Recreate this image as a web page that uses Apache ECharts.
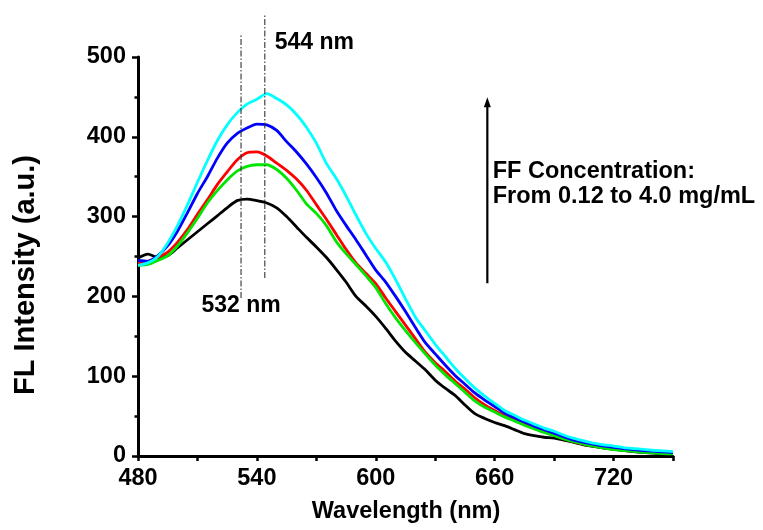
<!DOCTYPE html>
<html>
<head>
<meta charset="utf-8">
<script src="https://cdn.jsdelivr.net/npm/echarts@6/dist/echarts.min.js"></script>
<style>
  html, body { margin: 0; padding: 0; background: #ffffff; }
  #chart { width: 763px; height: 530px; }
</style>
</head>
<body>
<div id="chart"></div>
<script>
// Emission wavelength (nm), sampled every 5 nm
const wavelength = [
  480, 485, 490, 495, 500, 505, 510, 515, 520, 525, 530, 535,
  540, 545, 550, 555, 560, 565, 570, 575, 580, 585, 590, 595,
  600, 605, 610, 615, 620, 625, 630, 635, 640, 645, 650, 655,
  660, 665, 670, 675, 680, 685, 690, 695, 700, 705, 710, 715,
  720, 725, 730, 735, 740, 745, 750
];

// Fluorescence intensity (a.u.) for increasing FF concentration
const curveBlack = [
  248, 253, 249, 251, 261, 271, 281, 291, 301, 311, 320, 322,
  320, 317, 311, 300, 287, 274, 262, 249, 234, 218, 200, 188,
  175, 160, 144, 130, 119, 108, 95, 85, 76, 64, 53, 47,
  42, 38, 33, 28, 25.5, 23.5, 22.5, 20, 17, 14, 12, 10,
  8.5, 7, 5.6, 4.5, 3.5, 2.8, 2.3
];
const curveRed = [
  242, 244, 249, 255.5, 268, 284, 303, 321, 340, 356, 371, 380,
  381, 376, 367, 358, 347, 333, 315, 297, 278, 259, 242, 229,
  216, 198, 181, 164, 147, 130, 117, 106, 94, 84, 73, 64,
  57, 50.5, 45, 40, 35, 30.5, 26, 22, 18, 15, 12.7, 10.5,
  9, 7.7, 6.6, 5.6, 4.8, 3.9, 3.1
];
const curveGreen = [
  239, 240, 245, 251, 263.5, 280, 298, 317, 332.5, 346, 357, 363,
  365, 365, 359, 348, 333, 316, 304, 289, 269, 253.5, 240, 226,
  211, 191, 173, 157, 142, 128, 114, 102, 91, 80, 69, 61,
  55, 49, 44, 38.5, 34, 29.5, 25.5, 21.5, 18, 15, 12.3, 10,
  8, 6.9, 5.8, 4.7, 3.9, 3.1, 2.7
];
const curveBlue = [
  245, 244, 251, 263.5, 282, 305, 329, 350, 373, 392, 404, 411,
  416, 415, 408, 394, 381, 366, 349, 330, 308, 289, 271, 252,
  233, 218, 200, 181, 161, 142, 128, 114, 101, 90, 79, 70,
  62, 54, 48, 42.5, 37.5, 33, 28.5, 24, 20, 17, 14.5, 12.5,
  10.8, 9.4, 8.1, 6.9, 6, 5.2, 4.4
];
const curveCyan = [
  239, 242, 250, 267, 289, 315, 343, 370, 395, 415, 430, 441,
  447, 454, 448, 440, 428, 412, 392, 367, 348, 326, 302, 279,
  260, 243, 221, 197, 174, 157, 140, 125, 110, 97, 85, 75,
  66, 57, 51, 45, 40, 35, 31, 26, 22, 19, 16, 14,
  12.5, 10.6, 9.4, 8.3, 7.2, 6.4, 5.6
];

// Axis ticks
const xTickLabels = [480, 540, 600, 660, 720];
const yTickLabels = [0, 100, 200, 300, 400, 500];

// Peak markers: wavelength, and the intensity span of the dash-dot guide
const peakNm = [532, 544];
const peakFrom = [198, 223];
const peakTo = [527, 554];
const peakText = ['532 nm', '544 nm'];

const FONT = '"Liberation Sans", Arial, Helvetica, sans-serif';

const chart = echarts.init(document.getElementById('chart'), null, { renderer: 'canvas' });

function pairs(ys) {
  return wavelength.map((x, i) => [x, ys[i]]);
}

function lineSeries(name, ys, color) {
  return {
    name: name,
    type: 'line',
    data: pairs(ys),
    showSymbol: false,
    symbol: 'none',
    smooth: 0.25,
    clip: false,
    lineStyle: { color: color, width: 2.8 },
    emphasis: { disabled: true },
    animation: false
  };
}

chart.setOption({
  animation: false,
  backgroundColor: '#ffffff',
  grid: {
    left: 138, right: 90, top: 57, bottom: 74,
    containLabel: false,
    outerBoundsMode: 'none'
  },
  xAxis: {
    type: 'value',
    min: 480,
    max: 750,
    interval: 30,
    axisLine: { show: true, onZero: false, lineStyle: { color: '#000', width: 3 } },
    axisTick: { show: true, inside: false, length: 5, lineStyle: { color: '#000', width: 2.5 } },
    axisLabel: {
      show: true,
      margin: 11,
      color: '#000',
      fontFamily: FONT,
      fontWeight: 'bold',
      fontSize: 23.5,
      formatter: v => (xTickLabels.indexOf(v) >= 0 ? String(v) : '')
    },
    splitLine: { show: false }
  },
  yAxis: {
    type: 'value',
    min: 0,
    max: 500,
    interval: 100,
    axisLine: { show: true, onZero: false, lineStyle: { color: '#000', width: 3 } },
    axisTick: { show: true, inside: false, length: 6, lineStyle: { color: '#000', width: 2.5 } },
    minorTick: { show: true, splitNumber: 2, length: 3.5, lineStyle: { color: '#000', width: 2.5 } },
    axisLabel: {
      show: true,
      margin: 12,
      color: '#000',
      fontFamily: FONT,
      fontWeight: 'bold',
      fontSize: 23.5,
      formatter: v => (yTickLabels.indexOf(v) >= 0 ? String(v) : '')
    },
    splitLine: { show: false }
  },
  series: [
    lineSeries('black', curveBlack, '#000000'),
    lineSeries('red', curveRed, '#ff0000'),
    lineSeries('green', curveGreen, '#00e600'),
    lineSeries('blue', curveBlue, '#0000ff'),
    lineSeries('cyan', curveCyan, '#00ffff')
  ]
});

// Annotations positioned through the chart's own coordinate system
function px(x, y) {
  return chart.convertToPixel({ gridIndex: 0 }, [x, y]);
}

const graphics = [];

// Dash-dot guides at the emission maxima
peakNm.forEach((nm, i) => {
  const a = px(nm, peakFrom[i]);
  const b = px(nm, peakTo[i]);
  graphics.push({
    type: 'line',
    z: 5,
    shape: { x1: a[0], y1: a[1], x2: b[0], y2: b[1] },
    style: { stroke: '#333', lineWidth: 1.1, lineDash: [6, 2, 1.5, 2] }
  });
});

// Peak labels
const lbl544 = px(549, 518);
const lbl532 = px(512, 189);
[[lbl532, peakText[0]], [lbl544, peakText[1]]].forEach(([p, t]) => {
  graphics.push({
    type: 'text',
    z: 10,
    x: p[0], y: p[1],
    style: {
      text: t,
      font: 'bold 23px ' + FONT,
      fill: '#000',
      textAlign: 'left',
      textVerticalAlign: 'middle'
    }
  });
});

// Concentration arrow and caption
const arrowBottom = px(656.3, 216.5);
const arrowTip = px(656.3, 449.5);
graphics.push({
  type: 'line',
  z: 10,
  shape: { x1: arrowBottom[0], y1: arrowBottom[1], x2: arrowTip[0], y2: arrowTip[1] + 8 },
  style: { stroke: '#000', lineWidth: 2.2 }
});
graphics.push({
  type: 'polygon',
  z: 10,
  shape: { points: [[arrowTip[0], arrowTip[1]], [arrowTip[0] - 3.5, arrowTip[1] + 10], [arrowTip[0] + 3.5, arrowTip[1] + 10]] },
  style: { fill: '#000' }
});
const cap1 = px(659, 357);
const cap2 = px(659, 325);
graphics.push({
  type: 'text', z: 10, x: cap1[0], y: cap1[1],
  style: { text: 'FF Concentration:', font: 'bold 23.5px ' + FONT, fill: '#000', textAlign: 'left', textVerticalAlign: 'middle' }
});
graphics.push({
  type: 'text', z: 10, x: cap2[0], y: cap2[1],
  style: { text: 'From 0.12 to 4.0 mg/mL', font: 'bold 23.5px ' + FONT, fill: '#000', textAlign: 'left', textVerticalAlign: 'middle' }
});

// Axis titles
graphics.push({
  type: 'text', z: 10, x: 406, y: 512,
  style: { text: 'Wavelength (nm)', font: 'bold 23.5px ' + FONT, fill: '#000', textAlign: 'center', textVerticalAlign: 'middle' }
});
graphics.push({
  type: 'text', z: 10, x: 26, y: 275, rotation: Math.PI / 2,
  style: { text: 'FL Intensity (a.u.)', font: 'bold 29px ' + FONT, fill: '#000', textAlign: 'center', textVerticalAlign: 'middle' }
});

chart.setOption({ graphic: { elements: graphics } });
</script>
</body>
</html>
